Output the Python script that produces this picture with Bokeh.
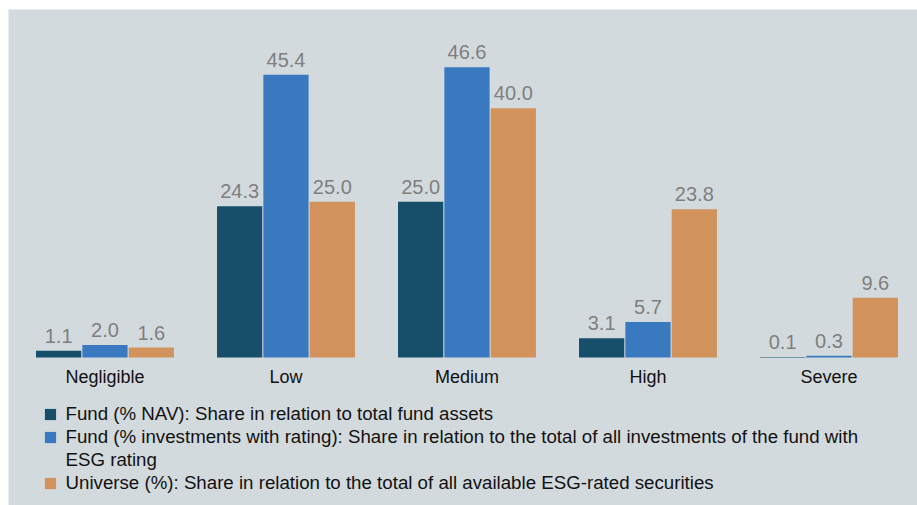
from bokeh.plotting import figure
from bokeh.models import (ColumnDataSource, Range1d, FixedTicker, Legend, LegendItem, Spacer)
from bokeh.layouts import column, row
from bokeh.transform import dodge
from bokeh.core.properties import value
from bokeh.embed import file_html
from bokeh.resources import INLINE

categories = ["Negligible", "Low", "Medium", "High", "Severe"]
fund_nav = [1.1, 24.3, 25.0, 3.1, 0.1]
fund_rated = [2.0, 45.4, 46.6, 5.7, 0.3]
universe = [1.6, 25.0, 40.0, 23.8, 9.6]
series_labels = [
    "Fund (% NAV): Share in relation to total fund assets",
    "Fund (% investments with rating): Share in relation to the total of all investments of the fund with",
    "ESG rating",
    "Universe (%): Share in relation to the total of all available ESG-rated securities",
]

C_NAV = "#174f6b"
C_RATED = "#3979bf"
C_UNI = "#d1925b"
BG = "#d3dadd"
FONT = "Liberation Sans"

idx = list(range(len(categories)))
src = ColumnDataSource(dict(
    x=idx,
    nav=fund_nav, rated=fund_rated, uni=universe,
    nav_t=[f"{v:.1f}" for v in fund_nav],
    rated_t=[f"{v:.1f}" for v in fund_rated],
    uni_t=[f"{v:.1f}" for v in universe],
))

p = figure(width=909, height=496, output_backend="svg", toolbar_location=None,
           x_range=Range1d(-0.533, 4.489), y_range=Range1d(-23.75, 55.86),
           min_border_left=0, min_border_right=0, min_border_top=0, min_border_bottom=0)
p.background_fill_color = BG
p.border_fill_color = BG
p.outline_line_color = None
p.grid.visible = False
p.yaxis.visible = False

xa = p.xaxis[0]
xa.ticker = FixedTicker(ticks=idx)
xa.major_label_overrides = {i: c for i, c in enumerate(categories)}
xa.axis_line_color = None
xa.major_tick_line_color = None
xa.minor_tick_line_color = None
xa.major_label_text_font = FONT
xa.major_label_text_font_size = "18px"
xa.major_label_text_color = "#111111"
xa.major_label_standoff = 3
xa.fixed_location = 0

W = 0.25
OFF = 0.256
r1 = p.vbar(x=dodge("x", -OFF, range=p.x_range), top="nav", width=W, bottom=0,
            source=src, fill_color=C_NAV, line_color=None)
r2 = p.vbar(x=dodge("x", 0, range=p.x_range), top="rated", width=W, bottom=0,
            source=src, fill_color=C_RATED, line_color=None)
r3 = p.vbar(x=dodge("x", OFF, range=p.x_range), top="uni", width=W, bottom=0,
            source=src, fill_color=C_UNI, line_color=None)
r_dummy = p.vbar(x=[], top=[], width=W, fill_alpha=0, line_alpha=0)

for col, tcol, off in (("nav", "nav_t", -OFF), ("rated", "rated_t", 0), ("uni", "uni_t", OFF)):
    p.text(x=dodge("x", off, range=p.x_range), y=col, text=tcol, source=src,
           text_font=value(FONT), text_font_size="20px", text_color="#7f7f7f",
           text_align="center", text_baseline="alphabetic", y_offset=-15)

legend = Legend(items=[
    LegendItem(label=series_labels[0], renderers=[r1]),
    LegendItem(label=series_labels[1], renderers=[r2]),
    LegendItem(label=series_labels[2], renderers=[r_dummy]),
    LegendItem(label=series_labels[3], renderers=[r3]),
], location=(34.5, 11))
legend.background_fill_alpha = 0
legend.border_line_color = None
legend.padding = 0
legend.margin = 0
legend.spacing = 0
legend.label_height = 23
legend.glyph_height = 14
legend.glyph_width = 14
legend.label_standoff = 9
legend.label_text_font = FONT
legend.label_text_font_size = "18.7px"
legend.label_text_color = "#111111"
p.add_layout(legend, "center")

layout = column(Spacer(height=9, width=917), row(Spacer(width=8, height=496), p))
open("out.html", "w").write(file_html(layout, INLINE))
